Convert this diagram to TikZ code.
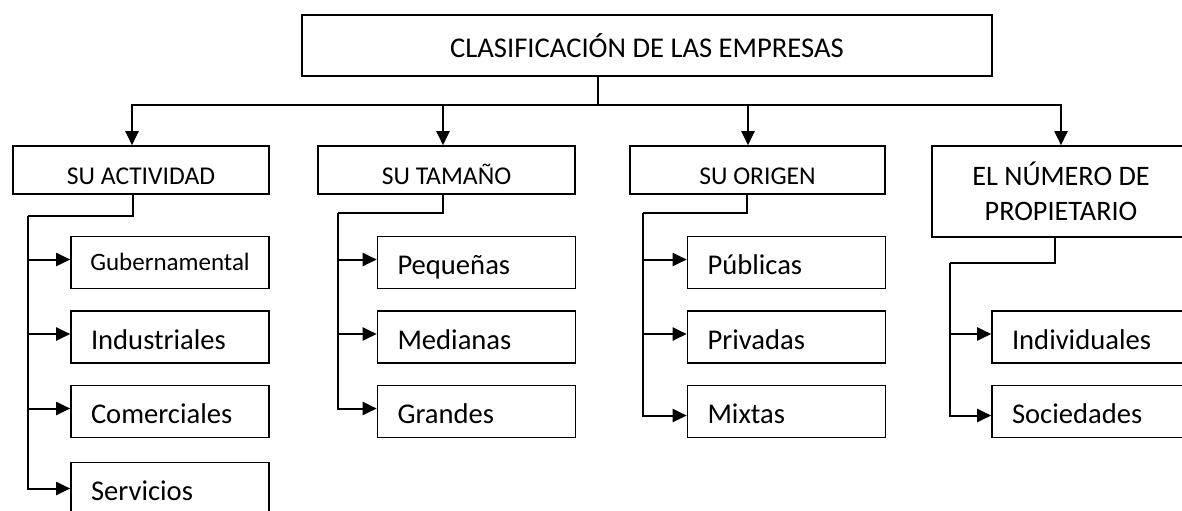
\documentclass[tikz,border=0pt]{standalone}
\usepackage{fontspec}
\setmainfont{Carlito}
\usetikzlibrary{arrows.meta}

\begin{document}
\begin{tikzpicture}[x=0.5pt, y=-0.5pt,
		caja/.style={draw, line width=0.8pt, inner sep=0pt, align=center},
		tipo/.style={caja, minimum height=24pt, font=\fontsize{12.8}{17.5}\selectfont},
		tipolinea/.style={tipo, text height=14pt, text depth=0pt},
		hoja/.style={draw, line width=0.8pt, minimum height=26pt, text width=79pt, inner xsep=10pt, inner ysep=0pt, align=left, text height=13.5pt, text depth=1.5pt, font=\fontsize{14.3}{16}\selectfont},
		flecha/.style={line width=1pt, -{Triangle[length=7pt,width=6.5pt]}},
		linea/.style={line width=1pt}]
		\clip (0,0) rectangle (1182,510);
		% caja principal
		\node[caja, minimum width=345pt, minimum height=30.5pt, font=\fontsize{14.3}{16}\selectfont] (clas) at (647,45.5) {CLASIFICACIÓN DE LAS EMPRESAS};
		% criterios
		\node[tipolinea, minimum width=128pt] (act) at (141,170) {SU ACTIVIDAD};
		\node[tipolinea, minimum width=128.5pt] (tam) at (446.5,170) {SU TAMAÑO};
		\node[tipolinea, minimum width=127.5pt] (ori) at (757.5,170) {SU ORIGEN};
		\node[tipo, minimum width=129pt, minimum height=45.5pt, font=\fontsize{14.1}{17.5}\selectfont] (num) at (1061,191.5) {EL NÚMERO DE\\PROPIETARIO};
		% tipos de empresa
		\node[hoja, text width=81pt, inner xsep=9pt, align=center, text height=9pt, text depth=1.1pt, font=\fontsize{12.5}{15}\selectfont] (gub) at (170,262.5) {Gubernamental};
		\node[hoja] (ind) at (170,337) {Industriales};
		\node[hoja] (com) at (170,411.5) {Comerciales};
		\node[hoja] (ser) at (170,488.5) {Servicios};
		\node[hoja] (peq) at (476.5,262.5) {Pequeñas};
		\node[hoja] (med) at (476.5,337) {Medianas};
		\node[hoja] (gra) at (476.5,411.5) {Grandes};
		\node[hoja] (pub) at (786.5,262.5) {Públicas};
		\node[hoja] (pri) at (786.5,337) {Privadas};
		\node[hoja] (mix) at (786.5,411.5) {Mixtas};
		\node[hoja] (indiv) at (1091,337) {Individuales};
		\node[hoja] (soc) at (1091,411.5) {Sociedades};
		% conectores
		\coordinate (bus) at (598,105);
		\draw[linea] (clas.south -| bus) -- (bus);
		\draw[flecha] (bus) -| ([xshift=-4.5pt]act.north);
		\draw[flecha] (bus) -| ([xshift=-1.75pt]tam.north);
		\draw[flecha] (bus) -| ([xshift=-4.75pt]ori.north);
		\draw[flecha] (bus) -| (num.north);
		\coordinate (actcodo) at (28,216);
		\draw[linea] ([xshift=-4pt]act.south) |- (actcodo);
		\draw[flecha] (actcodo) |- (ser.west);
		\foreach \n in {gub,ind,com}
			\draw[flecha] ([yshift=1.5pt]actcodo |- \n.west) -- ([yshift=1.5pt]\n.west);
		\coordinate (tamcodo) at (337.5,213);
		\draw[linea] ([xshift=-1.75pt]tam.south) |- (tamcodo);
		\draw[flecha] (tamcodo) |- ([yshift=1.5pt]gra.west);
		\foreach \n in {peq,med}
			\draw[flecha] ([yshift=1.5pt]tamcodo |- \n.west) -- ([yshift=1.5pt]\n.west);
		\coordinate (oricodo) at (643,213);
		\draw[linea] ([xshift=-5.25pt]ori.south) |- (oricodo);
		\draw[flecha] (oricodo) |- ([yshift=-2pt]mix.west);
		\foreach \n in {pub,pri}
			\draw[flecha] ([yshift=1.5pt]oricodo |- \n.west) -- ([yshift=1.5pt]\n.west);
		\coordinate (numcodo) at (950,263);
		\draw[linea] ([xshift=-3.25pt]num.south) |- (numcodo);
		\draw[flecha] (numcodo) |- ([yshift=-2pt]soc.west);
		\draw[flecha] ([yshift=1.5pt]numcodo |- indiv.west) -- ([yshift=1.5pt]indiv.west);
	\end{tikzpicture}
\end{document}
